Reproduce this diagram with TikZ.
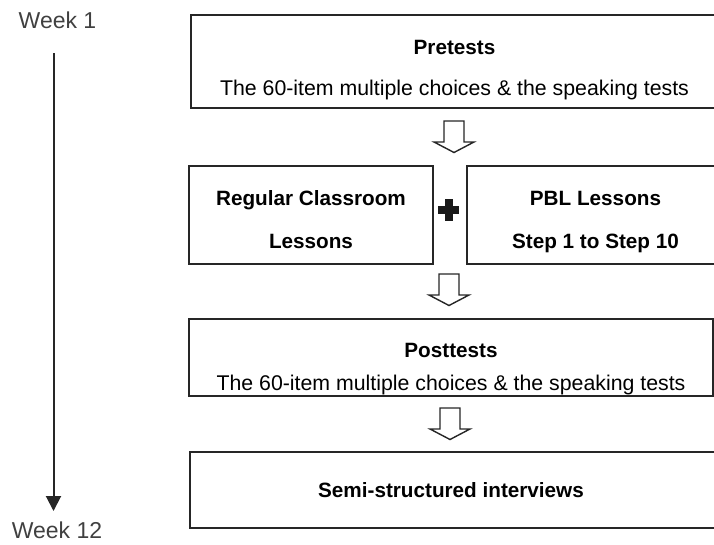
\documentclass[tikz,border=0pt]{standalone}
\usepackage{fontspec}
\setmainfont{Liberation Sans}
\usetikzlibrary{arrows.meta}
\begin{document}
\begin{tikzpicture}[x=1pt,y=-1pt,
  box/.style={draw=black!85,line width=1.6pt,inner sep=0pt},
  lbl/.style={font=\fontsize{21.3}{25}\selectfont,inner sep=0pt,anchor=base},
  blbl/.style={font=\fontsize{20.7}{25}\selectfont\bfseries,inner sep=0pt,anchor=base},
  wlbl/.style={font=\fontsize{23}{27}\selectfont,text=black!75,inner sep=0pt,anchor=base},
  harrow/.pic={\draw[draw=black!85,line width=1.4pt,fill=white,line join=miter]
    (-10,0) -- (-10,21) -- (-20,21) -- (0,31.5) -- (20,21) -- (10,21) -- (10,0) -- cycle;},
  plus/.style={fill=black!90,draw=none}]
\useasboundingbox (0,0) rectangle (714,544);
\clip (0,0) rectangle (714,544);
% boxes
\draw[box] (191,15) rectangle (720,108);
\node[blbl] (pre) at (454.5,54) {Pretests};
\node[lbl] (pretxt) at (454.5,95) {The 60-item multiple choices \& the speaking tests};
\pic (a1) at (454,121) {harrow};
\draw[box] (189,166) rectangle (433,264);
\node[blbl] (rc1) at (311,205) {Regular Classroom};
\node[blbl] (rc2) at (311,248) {Lessons};
\draw[box] (467,166) rectangle (724,264);
\node[blbl] (pbl1) at (595.5,205) {PBL Lessons};
\node[blbl] (pbl2) at (595.5,248) {Step 1 to Step 10};
\coordinate (plusc) at (448.7,210);
\fill[plus] ([xshift=-10.5pt,yshift=3.8pt]plusc) rectangle ([xshift=10.5pt,yshift=-3.8pt]plusc);
\fill[plus] ([xshift=-4pt,yshift=11pt]plusc) rectangle ([xshift=4pt,yshift=-11pt]plusc);
\pic (a2) at (449,274) {harrow};
\draw[box] (189,319) rectangle (713,396);
\node[blbl] (post) at (451,357) {Posttests};
\node[lbl] (posttxt) at (451,390) {The 60-item multiple choices \& the speaking tests};
\pic (a3) at (450,408) {harrow};
\draw[box] (190,452) rectangle (716,528);
\node[blbl] (semi) at (451,497) {Semi-structured interviews};
% timeline
\node[wlbl] (w1) at (57.5,28) {Week 1};
\node[wlbl] (w12) at (57,538.5) {Week 12};
\coordinate (tstart) at (53.5,53);
\coordinate (tend) at (53.5,511);
\draw[line width=2pt,black!85,-{Triangle[length=15pt,width=15pt]}] (tstart) -- (tend);
\end{tikzpicture}
\end{document}
